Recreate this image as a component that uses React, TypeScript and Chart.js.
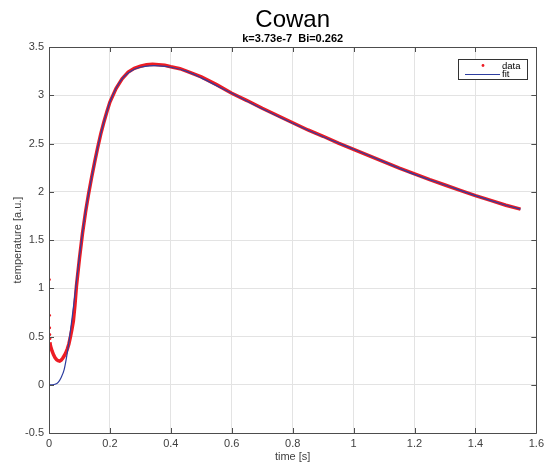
import React, { useEffect, useRef } from "react";
import { Chart, registerables } from "chart.js";

Chart.register(...registerables);

// ---- data ----
const fitTime = [0, 0.01, 0.02, 0.03, 0.04, 0.05, 0.06, 0.07, 0.08, 0.09, 0.1, 0.11, 0.12, 0.13, 0.14, 0.15, 0.16, 0.17, 0.18, 0.19, 0.2, 0.22, 0.24, 0.26, 0.28, 0.3, 0.33, 0.36, 0.4, 0.45, 0.5, 0.55, 0.6, 0.7, 0.8, 0.9, 1.0, 1.1, 1.2, 1.3, 1.4, 1.5, 1.548];
const fitTemp = [0, 0, 0.005, 0.025, 0.075, 0.16, 0.33, 0.55, 0.8, 1.07, 1.33, 1.58, 1.8, 1.98, 2.15, 2.31, 2.46, 2.6, 2.72, 2.83, 2.93, 3.07, 3.17, 3.23, 3.27, 3.29, 3.305, 3.305, 3.29, 3.25, 3.18, 3.1, 3.02, 2.86, 2.71, 2.57, 2.44, 2.31, 2.18, 2.07, 1.96, 1.86, 1.82];

const dataTime = [0.003, 0.005, 0.01, 0.015, 0.02, 0.025, 0.03, 0.035, 0.04, 0.045, 0.05, 0.055, 0.06, 0.065, 0.07, 0.075, 0.08, 0.085, 0.09, 0.1, 0.11, 0.12, 0.13, 0.14, 0.15, 0.16, 0.17, 0.18, 0.19, 0.2, 0.22, 0.24, 0.26, 0.28, 0.3, 0.32, 0.34, 0.36, 0.38, 0.4, 0.43, 0.46, 0.5, 0.55, 0.6, 0.65, 0.7, 0.75, 0.8, 0.85, 0.9, 0.95, 1.0, 1.05, 1.1, 1.15, 1.2, 1.25, 1.3, 1.35, 1.4, 1.45, 1.5, 1.548];
const dataTemp = [0.44, 0.4, 0.35, 0.31, 0.28, 0.26, 0.25, 0.245, 0.255, 0.275, 0.3, 0.33, 0.37, 0.42, 0.49, 0.57, 0.66, 0.82, 1.02, 1.31, 1.57, 1.79, 1.98, 2.15, 2.31, 2.46, 2.6, 2.72, 2.83, 2.93, 3.07, 3.17, 3.24, 3.28, 3.3, 3.315, 3.32, 3.315, 3.31, 3.295, 3.275, 3.24, 3.19, 3.11, 3.02, 2.945, 2.865, 2.79, 2.715, 2.64, 2.575, 2.505, 2.44, 2.375, 2.31, 2.245, 2.185, 2.125, 2.07, 2.015, 1.96, 1.91, 1.86, 1.82];

const outlierTime = [0.001, 0.0015, 0.002, 0.0025, 0.003];
const outlierTemp = [1.09, 0.72, 0.59, 0.52, 0.48];

const xTicks = [0, 0.2, 0.4, 0.6, 0.8, 1, 1.2, 1.4, 1.6];
const yTicks = [-0.5, 0, 0.5, 1, 1.5, 2, 2.5, 3, 3.5];

const titleText = "Cowan";
const subtitleText = "k=3.73e-7  Bi=0.262";
const xLabel = "time [s]";
const yLabel = "temperature [a.u.]";
const legendLabels = ["data", "fit"];

const FONT = "'Liberation Sans', Arial, Helvetica, sans-serif";
const RED = "rgb(236, 28, 36)";
const BLUE = "rgb(45, 62, 160)";
const AXIS = "#4d4d4d";
const TEXT = "#404040";

const framePlugin = {
  id: "frameAndLegend",
  afterDatasetsDraw(chart: any) {
    const { ctx, chartArea: a, scales } = chart;
    const xs = scales.x;
    const ys = scales.y;
    ctx.save();
    ctx.strokeStyle = AXIS;
    ctx.lineWidth = 1;
    ctx.beginPath();
    ctx.rect(Math.round(a.left) + 0.5, Math.round(a.top) + 0.5, Math.round(a.right - a.left), Math.round(a.bottom - a.top));
    ctx.stroke();
    const tl = 5;
    ctx.beginPath();
    xTicks.forEach((v) => {
      const px = Math.round(xs.getPixelForValue(v)) + 0.5;
      ctx.moveTo(px, a.bottom);
      ctx.lineTo(px, a.bottom - tl);
      ctx.moveTo(px, a.top);
      ctx.lineTo(px, a.top + tl);
    });
    yTicks.forEach((v) => {
      const py = Math.round(ys.getPixelForValue(v)) + 0.5;
      ctx.moveTo(a.left, py);
      ctx.lineTo(a.left + tl, py);
      ctx.moveTo(a.right, py);
      ctx.lineTo(a.right - tl, py);
    });
    ctx.stroke();

    // legend
    const bx = 458.5, by = 59.5, bw = 69, bh = 20;
    ctx.fillStyle = "#fff";
    ctx.fillRect(bx, by, bw, bh);
    ctx.strokeStyle = "#333";
    ctx.strokeRect(bx, by, bw, bh);
    ctx.fillStyle = RED;
    ctx.beginPath();
    ctx.arc(483, 65.5, 1.4, 0, Math.PI * 2);
    ctx.fill();
    ctx.strokeStyle = BLUE;
    ctx.lineWidth = 1;
    ctx.beginPath();
    ctx.moveTo(465, 74.5);
    ctx.lineTo(500, 74.5);
    ctx.stroke();
    ctx.fillStyle = "#000";
    ctx.font = `9.5px ${FONT}`;
    ctx.textAlign = "left";
    ctx.textBaseline = "alphabetic";
    ctx.fillText(legendLabels[0], 502, 69);
    ctx.fillText(legendLabels[1], 502, 77);
    ctx.restore();
  },
};

export default function App() {
  const ref = useRef<HTMLCanvasElement | null>(null);
  useEffect(() => {
    if (!ref.current) return;
    const chart = new Chart(ref.current, {
      type: "scatter",
      data: {
        datasets: [
          {
            label: "data",
            data: dataTime.map((t, i) => ({ x: t, y: dataTemp[i] })),
            showLine: true,
            borderColor: RED,
            borderWidth: 3.5,
            pointRadius: 0,
            tension: 0,
            order: 3,
          },
          {
            label: "data-start",
            data: outlierTime.map((t, i) => ({ x: t, y: outlierTemp[i] })),
            showLine: false,
            backgroundColor: RED,
            borderColor: RED,
            pointRadius: 1.5,
            borderWidth: 0,
            order: 2,
          },
          {
            label: "fit",
            data: fitTime.map((t, i) => ({ x: t, y: fitTemp[i] })),
            showLine: true,
            borderColor: BLUE,
            borderWidth: 1.2,
            pointRadius: 0,
            tension: 0.3,
            order: 1,
          },
        ],
      },
      options: {
        responsive: false,
        animation: false,
        layout: { padding: { left: 0, right: 10, top: 0, bottom: 0 } },
        plugins: {
          legend: { display: false },
          tooltip: { enabled: false },
          title: {
            display: true,
            text: titleText,
            fullSize: false,
            color: "#000",
            font: { family: FONT, size: 24, weight: "normal", lineHeight: 1 },
            padding: { top: 8, bottom: 0 },
          },
          subtitle: {
            display: true,
            text: subtitleText,
            fullSize: false,
            color: "#000",
            font: { family: FONT, size: 11, weight: "bold", lineHeight: 1 },
            padding: { top: 1, bottom: 3 },
          },
        },
        scales: {
          x: {
            type: "linear",
            min: 0,
            max: 1.6,
            afterFit: (s: any) => {
              s.height = 34;
            },
            afterBuildTicks: (s: any) => {
              s.ticks = xTicks.map((v) => ({ value: v }));
            },
            grid: { color: "#e3e3e3", drawTicks: false, lineWidth: 1 },
            border: { display: false },
            ticks: {
              padding: 4,
              color: TEXT,
              font: { family: FONT, size: 11 },
              maxRotation: 0,
              autoSkip: false,
              callback: (v: any) => String(v),
            },
            title: {
              display: true,
              text: xLabel,
              color: TEXT,
              font: { family: FONT, size: 11 },
              padding: { top: 0, bottom: 3 },
            },
          },
          y: {
            type: "linear",
            min: -0.5,
            max: 3.5,
            afterFit: (s: any) => {
              s.width = 49;
            },
            afterBuildTicks: (s: any) => {
              s.ticks = yTicks.map((v) => ({ value: v }));
            },
            grid: { color: "#e3e3e3", drawTicks: false, lineWidth: 1 },
            border: { display: false },
            ticks: {
              padding: 5,
              color: TEXT,
              font: { family: FONT, size: 11 },
              autoSkip: false,
              callback: (v: any) => String(v),
            },
            title: {
              display: true,
              text: yLabel,
              color: TEXT,
              font: { family: FONT, size: 11 },
              padding: { top: 11, bottom: 0 },
            },
          },
        },
      },
      plugins: [framePlugin],
    });
    return () => chart.destroy();
  }, []);

  return (
    <div style={{ position: "fixed", left: 0, top: 0, width: 548, height: 467, background: "#fff" }}>
      <canvas ref={ref} width={548} height={467} style={{ width: 548, height: 467 }} />
    </div>
  );
}
